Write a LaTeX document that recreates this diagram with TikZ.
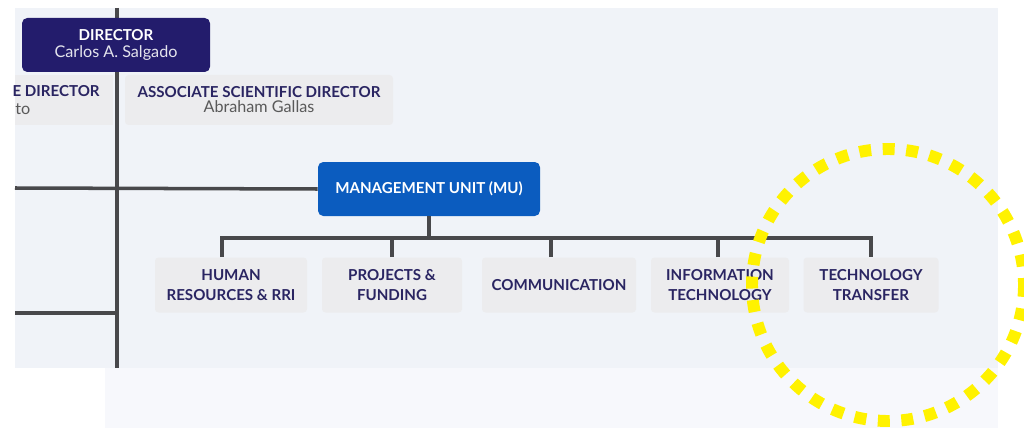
\documentclass[tikz,border=0pt]{standalone}
\usepackage{fontspec}
\setmainfont{Lato}
\usetikzlibrary{positioning}
\definecolor{navy}{HTML}{231C6C}
\definecolor{navytext}{HTML}{2A2562}
\definecolor{mublue}{HTML}{0B5CBF}
\definecolor{boxgray}{HTML}{ECECEE}
\definecolor{linegray}{HTML}{48484B}
\definecolor{paneltop}{HTML}{F0F3F8}
\definecolor{panelbot}{HTML}{F7F8FC}
\definecolor{hiyellow}{HTML}{FFF200}
\newcommand{\pxu}{0.02cm}
\newcommand{\capsfont}{\fontsize{8.6}{11.5}\selectfont\bfseries}
\newcommand{\namefont}{\fontsize{9.2}{11.5}\selectfont\mdseries}
\tikzset{
	conn/.style={draw=linegray, line width=2pt},
	headbox/.style={rounded corners=3pt, fill=#1, text=white, font=\capsfont, align=center, inner sep=0pt},
	unitbox/.style={rounded corners=2pt, fill=boxgray, text=navytext, font=\capsfont, align=center, inner sep=0pt, minimum height=55*\pxu},
}

\begin{document}
\begin{tikzpicture}[x=0.02cm, y=-0.02cm]
				\useasboundingbox (0,0) rectangle (1024,429);
				\fill[paneltop] (15,8) rectangle (998,368);
				\fill[panelbot] (105,368) rectangle (998,428);
				% spine and side lines
				\coordinate (top) at (117,8);
				\coordinate (bot) at (117,368);
				\coordinate (leftA) at (15,188);
				\coordinate (leftB) at (15,313);
				\draw[conn] (top) -- (bot);
				\draw[conn] (leftB) -- (leftB -| top);
				\node[headbox=navy, minimum width=188*\pxu, minimum height=54*\pxu] (dir) at (116,45) {DIRECTOR\\[-2pt]{\namefont\color{white!88!navy} Carlos A. Salgado}};
				\fill[boxgray] (15,75) rectangle (113,125);
				\node[anchor=east, text=navytext, font=\capsfont, inner sep=0pt] (ldirA) at (100,91) {E DIRECTOR};
				\node[anchor=west, text=black!65, font=\namefont, inner sep=0pt] (ldirB) at (15,109) {to};
				\node[unitbox, minimum width=268*\pxu, minimum height=50*\pxu] (assoc) at (259,100) {ASSOCIATE SCIENTIFIC DIRECTOR\\[-3pt]{\namefont\color{black!65}Abraham Gallas}};
				\node[headbox=mublue, minimum width=222*\pxu, minimum height=54*\pxu] (mu) at (429,189) {MANAGEMENT UNIT (MU)};
				\draw[conn] (leftA) -- (mu.west);
				% units under the MU
				\node[unitbox, minimum width=152*\pxu] (hr) at (231,285) {HUMAN\\RESOURCES \& RRI};
				\node[unitbox, minimum width=140*\pxu] (pf) at (392,285) {PROJECTS \&\\FUNDING};
				\node[unitbox, minimum width=154*\pxu] (com) at (559,285) {COMMUNICATION};
				\node[unitbox, minimum width=138*\pxu] (it) at (720,285) {INFORMATION\\TECHNOLOGY};
				\node[unitbox, minimum width=135*\pxu] (tt) at (871,285) {TECHNOLOGY\\TRANSFER};
				\coordinate (bus) at (0,238);
				\draw[conn] (mu.south) -- (mu.south |- bus);
				\draw[conn] ([xshift=-9*\pxu]hr.north) |- (bus -| tt.north) -- (tt.north);
				\foreach \u/\dx in {pf/0,com/-8,it/-2}
					\draw[conn] ([xshift=\dx*\pxu]\u.north) -- ([xshift=\dx*\pxu]\u.north |- bus);
				% highlight
				\draw[hiyellow, line width=6.8pt, dash pattern=on 6.8pt off 6.6pt] (888,285) circle[radius=136];
				\end{tikzpicture}
\end{document}
